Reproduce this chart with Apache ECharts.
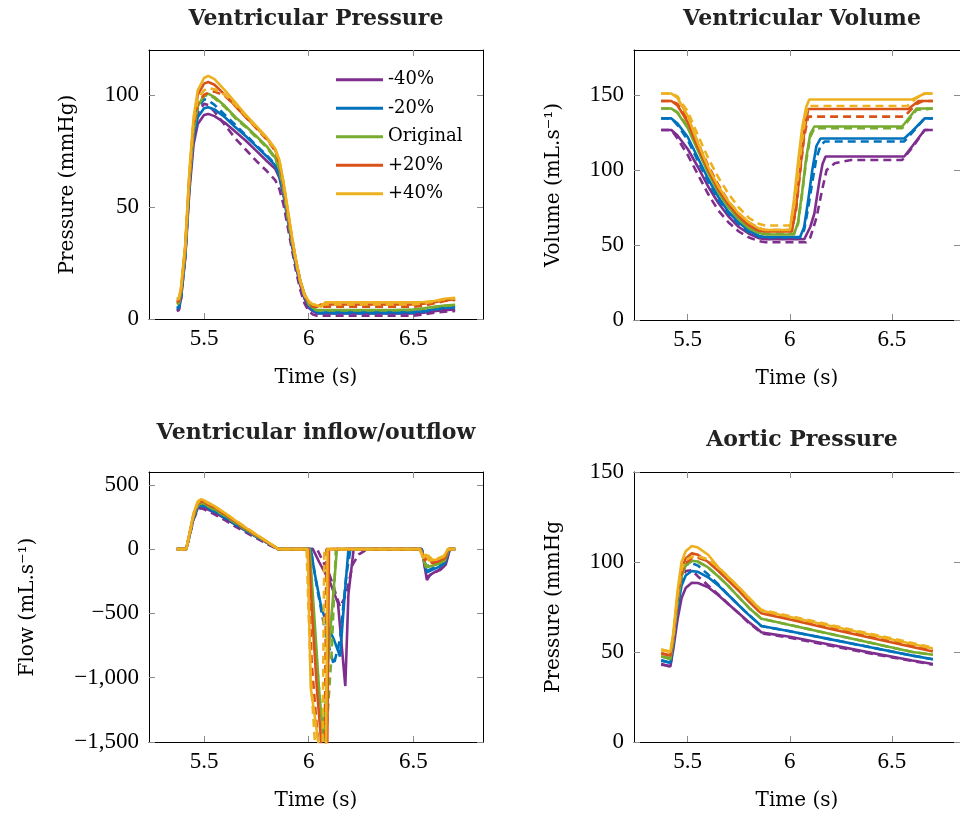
<!DOCTYPE html>
<html><head><meta charset="utf-8">
<script src="https://cdn.jsdelivr.net/npm/echarts@6/dist/echarts.min.js"></script>
<style>html,body{margin:0;padding:0;background:#fff}#c{width:960px;height:815px}</style>
</head><body><div id="c"></div>
<script>
// ---------- shared ----------
const names = ['-40%', '-20%', 'Original', '+20%', '+40%'];
const colors = ['#7E2F8E', '#0072BD', '#77AC30', '#D95319', '#EDB120'];
const xTicks = [5.5, 6, 6.5];
const titles = ['Ventricular Pressure', 'Ventricular Volume', 'Ventricular inflow/outflow', 'Aortic Pressure'];
const yNames = ['Pressure (mmHg)', 'Volume (mL.s\u207B\u00B9)', 'Flow (mL.s\u207B\u00B9)', 'Pressure (mmHg'];
const vpYTicks = [0, 50, 100];
const volYTicks = [0, 50, 100, 150];
const flowYTicks = [-1500, -1000, -500, 0, 500];
const apYTicks = [0, 50, 100, 150];

// ---------- Ventricular pressure (mmHg) ----------
const vpTime = [5.37,5.38,5.39,5.41,5.43,5.45,5.47,5.50,5.52,5.55,5.60,5.65,5.70,5.75,5.80,5.84,5.86,5.88,5.90,5.92,5.94,5.96,5.98,6.00,6.02,6.04,6.06,6.08,6.10,6.20,6.30,6.40,6.50,6.55,6.60,6.65,6.70];
const vpSolid = [
  [4,4.5,9,27,57,78,87,91,91.5,90.5,87.5,83.5,79.5,75,70.5,67,63,55,44,33,23,15,9,5,3.5,2.5,2.5,2.5,2.5,2.5,2.5,2.5,2.5,2.8,3.5,4,4.2],
  [5,5.5,10,28,59,81,90,94,94.5,93.5,90,85.5,81.5,77,72.5,68.5,64,56,45,34,24,16,10,6,4,3,2.8,3,3,3,3,3,3.2,3.5,4.5,5,5.4],
  [7,7.5,12,30,62,84,95,99.5,100.5,99,95,90,86,81.5,77,72,67,58,46,35,25,17,11,7,5,4,4,4,4,4,4,4,4.2,4.8,5.5,6,6.3],
  [8,8.5,13,32,64,88,100,105,105.7,104.5,100,95,90,85.5,80.5,75.5,70,60,48,36,26,17,11,7.5,6,5.5,6.5,6.5,6.5,6.5,6.5,6.5,6.5,6.8,7.5,8.3,8.8],
  [9,9.5,14,33,66,90,102,107.5,108.5,107,102,96.5,91,86,81,76,71,61,49,37,26,17,11,8,6.5,6,5.5,7.5,7.5,7.5,7.5,7.5,7.5,7.6,8,9,9.5]
];
const vpDashed = [
  [3.5,4,9,28,60,83,92,96,95.5,92.5,86.5,80.5,75.5,70.5,66,62,58,51,41,31,21,13,7,3.5,2,1.5,1.5,1.5,1.5,1.5,1.5,1.5,1.5,2,2.8,3.3,3.6],
  [4.5,5,10,29,62,85,94,98,97.5,95.5,91,86.5,82,77.5,73,69,64.5,56,45,34,24,16,10,6,3.5,2.8,2.6,2.6,2.6,2.6,2.6,2.6,2.8,3.2,4.2,4.8,5.2],
  [6.5,7,11.5,30,62,85,95.5,99.5,100,98.5,94.5,89.5,85.5,81,76.5,71.5,66.5,57.5,45.5,34.5,24.5,16.5,10.5,6.5,4.5,3.8,3.8,3.8,3.8,3.8,3.8,3.8,4,4.6,5.3,5.8,6.1],
  [7.5,8,12.5,31,62,86,96,100,101,101.5,99.5,95,90,85,80,75,69.5,59.5,47.5,35.5,25.5,16.5,10.5,7,5.5,5.5,5.5,5.5,5.5,5.5,5.5,5.5,5.5,6,7,8,8.5],
  [8.5,9,13.5,32,64,88,98,102,103,102.5,100,95.5,90.5,85.5,80.5,75.5,70.5,60.5,48.5,36.5,25.5,16.5,10.5,7.5,6.5,6.5,6.5,6.5,6.5,6.5,6.5,6.5,6.5,7,7.8,8.8,9.2]
];

// ---------- Ventricular volume (time, value) ----------
const volSolid = [
  [[5.37,126.7],[5.42,126.7],[5.45,123],[5.50,114],[5.55,102],[5.60,89],[5.65,78],[5.70,69],[5.75,62],[5.80,57.5],[5.85,54.5],[5.88,53.8],[6.07,53.8],[6.10,62],[6.12,71],[6.145,93],[6.16,104],[6.175,109],[6.56,109],[6.60,116],[6.66,126.7],[6.70,126.7]],
  [[5.37,134.4],[5.42,134.4],[5.45,131],[5.50,122],[5.55,108],[5.60,94],[5.65,82],[5.70,72],[5.75,65],[5.80,59.5],[5.85,56],[5.88,55.3],[6.05,55.3],[6.07,62],[6.09,80],[6.11,100],[6.13,116],[6.15,121],[6.56,121],[6.60,126],[6.66,134.4],[6.70,134.4]],
  [[5.37,141],[5.42,141],[5.45,138],[5.50,128],[5.55,113],[5.60,98],[5.65,85],[5.70,75],[5.75,67],[5.80,61],[5.85,58],[5.88,57],[6.02,57],[6.04,65],[6.06,85],[6.08,108],[6.10,124],[6.12,129],[6.55,129],[6.62,141],[6.70,141]],
  [[5.37,146],[5.42,146],[5.45,143],[5.50,132],[5.55,115],[5.60,100],[5.65,87],[5.70,77],[5.75,69],[5.80,63],[5.85,59.5],[5.88,59],[6.01,59],[6.03,75],[6.05,100],[6.07,125],[6.09,140.7],[6.58,140.7],[6.63,146],[6.70,146]],
  [[5.37,151],[5.42,151],[5.45,148],[5.50,136],[5.55,118],[5.60,102],[5.65,89],[5.70,79],[5.75,71],[5.80,65],[5.85,61],[5.88,60],[6.00,60],[6.02,80],[6.04,105],[6.06,128],[6.08,142],[6.095,147],[6.60,147],[6.66,151],[6.70,151]]
];
const volDashed = [
  [[5.37,126.7],[5.42,126.7],[5.45,121],[5.50,110],[5.55,97],[5.60,84],[5.65,73],[5.70,65],[5.75,59],[5.80,55],[5.85,52.5],[5.88,51.8],[6.08,51.8],[6.10,55],[6.13,68],[6.16,88],[6.18,100],[6.22,104.5],[6.30,106.7],[6.55,106.7],[6.60,115],[6.66,126.7],[6.70,126.7]],
  [[5.37,134.4],[5.42,134.4],[5.45,130],[5.50,120],[5.55,106],[5.60,92],[5.65,80],[5.70,71],[5.75,64],[5.80,58.5],[5.85,55.5],[5.88,55],[6.05,55],[6.07,60],[6.09,75],[6.11,92],[6.13,108],[6.15,116],[6.17,119],[6.56,119],[6.60,125],[6.66,134.4],[6.70,134.4]],
  [[5.37,141],[5.42,141],[5.45,138.5],[5.50,129],[5.55,114],[5.60,99],[5.65,86],[5.70,76],[5.75,68],[5.80,62],[5.85,58.5],[5.88,57.5],[6.02,57.5],[6.04,64],[6.06,84],[6.08,106],[6.10,122],[6.12,127.8],[6.55,127.8],[6.62,140],[6.70,141]],
  [[5.37,146],[5.42,146],[5.45,144],[5.50,134],[5.55,118],[5.60,103],[5.65,90],[5.70,79],[5.75,71],[5.80,65],[5.85,61],[5.88,60],[6.01,60],[6.03,73],[6.05,98],[6.07,122],[6.09,135.6],[6.56,135.6],[6.62,144],[6.65,146],[6.70,146]],
  [[5.37,151],[5.42,151],[5.45,149],[5.50,139],[5.55,123],[5.60,108],[5.65,95],[5.70,84],[5.75,75],[5.80,68],[5.85,64],[5.88,63],[6.00,63],[6.02,75],[6.04,95],[6.06,120],[6.08,138],[6.09,142.7],[6.575,142.7],[6.62,148],[6.66,151],[6.70,151]]
];

// ---------- Ventricular inflow/outflow (time, value) ----------
const flowSolid = [
  [[5.37,0],[5.415,0],[5.43,100],[5.45,240],[5.47,318],[5.485,330],[5.50,322],[5.55,285],[5.60,240],[5.65,190],[5.70,142],[5.75,95],[5.80,50],[5.855,0],[6.02,0],[6.05,-100],[6.10,-250],[6.14,-420],[6.175,-1065],[6.19,-350],[6.215,0],[6.54,0],[6.565,-240],[6.58,-200],[6.60,-180],[6.63,-160],[6.655,-120],[6.675,0],[6.70,0]],
  [[5.37,0],[5.415,0],[5.43,105],[5.45,250],[5.47,332],[5.485,345],[5.50,338],[5.55,298],[5.60,250],[5.65,198],[5.70,148],[5.75,100],[5.80,53],[5.855,0],[6.01,0],[6.03,-200],[6.06,-450],[6.09,-600],[6.12,-700],[6.15,-835],[6.17,-400],[6.19,0],[6.54,0],[6.565,-180],[6.59,-160],[6.62,-140],[6.65,-110],[6.672,0],[6.70,0]],
  [[5.37,0],[5.415,0],[5.43,110],[5.45,260],[5.47,345],[5.485,360],[5.50,353],[5.55,312],[5.60,262],[5.65,207],[5.70,154],[5.75,104],[5.80,55],[5.855,0],[6.005,0],[6.03,-600],[6.05,-1100],[6.07,-1460],[6.10,-700],[6.135,0],[6.535,0],[6.56,-140],[6.59,-130],[6.62,-115],[6.65,-90],[6.67,0],[6.70,0]],
  [[5.37,0],[5.415,0],[5.43,115],[5.45,270],[5.47,360],[5.485,375],[5.50,368],[5.55,325],[5.60,272],[5.65,215],[5.70,160],[5.75,108],[5.80,57],[5.855,0],[6.00,0],[6.02,-600],[6.04,-1100],[6.06,-1500],[6.08,-1800],[6.088,-1700],[6.097,0],[6.535,0],[6.555,-90],[6.57,-50],[6.59,-110],[6.62,-95],[6.65,-70],[6.668,0],[6.70,0]],
  [[5.37,0],[5.415,0],[5.43,120],[5.45,280],[5.47,372],[5.485,388],[5.50,380],[5.55,335],[5.60,280],[5.65,222],[5.70,165],[5.75,112],[5.80,60],[5.855,0],[5.995,0],[6.01,-1080],[6.025,-1250],[6.05,-1550],[6.07,-1800],[6.082,-1800],[6.09,0],[6.53,0],[6.548,-70],[6.56,-40],[6.575,-90],[6.61,-80],[6.645,-60],[6.665,0],[6.70,0]]
];
const flowDashed = [
  [[5.37,0],[5.415,0],[5.43,95],[5.45,230],[5.47,305],[5.485,318],[5.50,310],[5.55,270],[5.60,225],[5.65,175],[5.70,130],[5.75,85],[5.80,42],[5.85,0],[6.04,0],[6.10,-200],[6.15,-450],[6.18,-350],[6.21,-120],[6.24,-40],[6.28,0],[6.54,0],[6.565,-220],[6.59,-190],[6.62,-165],[6.65,-125],[6.675,0],[6.70,0]],
  [[5.37,0],[5.415,0],[5.43,100],[5.45,245],[5.47,325],[5.485,338],[5.50,330],[5.55,290],[5.60,243],[5.65,192],[5.70,143],[5.75,96],[5.80,50],[5.853,0],[6.01,0],[6.04,-300],[6.08,-650],[6.12,-900],[6.15,-700],[6.18,-200],[6.20,0],[6.54,0],[6.565,-170],[6.59,-150],[6.62,-130],[6.65,-100],[6.672,0],[6.70,0]],
  [[5.37,0],[5.415,0],[5.43,108],[5.45,255],[5.47,340],[5.485,355],[5.50,348],[5.55,307],[5.60,258],[5.65,204],[5.70,152],[5.75,102],[5.80,54],[5.855,0],[6.00,0],[6.03,-700],[6.06,-1300],[6.08,-1550],[6.11,-800],[6.13,0],[6.535,0],[6.56,-130],[6.59,-120],[6.62,-105],[6.65,-85],[6.67,0],[6.70,0]],
  [[5.37,0],[5.415,0],[5.43,112],[5.45,265],[5.47,352],[5.485,367],[5.50,362],[5.55,322],[5.60,270],[5.65,215],[5.70,162],[5.75,110],[5.80,58],[5.855,0],[5.995,0],[6.015,-900],[6.04,-1400],[6.06,-1700],[6.075,-1800],[6.085,0],[6.535,0],[6.555,-80],[6.575,-60],[6.60,-100],[6.63,-85],[6.655,-60],[6.668,0],[6.70,0]],
  [[5.37,0],[5.415,0],[5.43,115],[5.45,272],[5.47,362],[5.485,378],[5.50,374],[5.55,333],[5.60,280],[5.65,224],[5.70,168],[5.75,114],[5.80,60],[5.857,0],[5.99,0],[6.01,-1000],[6.03,-1500],[6.05,-1800],[6.065,-1800],[6.075,0],[6.53,0],[6.55,-60],[6.57,-50],[6.59,-80],[6.62,-70],[6.65,-50],[6.665,0],[6.70,0]]
];

// ---------- Aortic pressure (mmHg) ----------
const apTime = [5.37,5.40,5.415,5.43,5.45,5.47,5.49,5.52,5.55,5.60,5.65,5.70,5.75,5.80,5.84,5.86,5.88,6.00,6.20,6.40,6.60,6.70];
const apSolid = [
  [43.3,42.3,41.9,52,68,80,85.5,88.5,88.3,86,81.5,76.5,71.5,66.5,63,61,60.5,58.5,54,49.5,45.3,43.3],
  [45.5,44.5,44,55,74,87,92.5,95,94.5,91.5,87,81.5,76,70.5,66.5,64.5,64,61.5,57,52.5,48,46],
  [47.5,46.5,46,57,78,92,98,100.7,100.3,97,92,86.5,80.5,74.5,70.5,68.5,68,65,60,55,50,48.5],
  [49.5,48.5,48,59,81,96,102,104.8,104,100,95,89.5,84,78,73.5,71.5,71,68,62.8,57.8,52.8,50.3],
  [51.5,50.5,50,61,84,100,106,108.9,108,104,97,91.5,86,80,75.5,73,72.5,69.5,64.5,59.5,54.5,52]
];
const apDashed = [
  [43,42.5,42,55,75,90,95,95.5,92,87,82,76.5,71.5,66,62.5,60.5,60,58,53.5,49,45,43],
  [45,44.5,44,57,78,93,98.5,99.4,98,93,87.5,81.5,76,70.5,66.5,64.5,64,61.5,57,52.5,48,46],
  [47.5,47,46.5,58,79,93,98.5,100.3,100,97,92,86.5,80.5,74.5,70.5,68.5,68,65,60,55,50,48.5],
  [49,48.5,48,58,80,94,99.5,102,102.3,100.5,95.5,90,84.5,78.5,74,72,71.5,68.5,63.5,58.5,53.5,51],
  [51,50.5,50,59,82,96,101,103,103,101.5,97,91.5,86,80,75.5,73.5,73,70,65,60,55,52.5]
];

// ---------- build ----------
const zip = (t, v) => t.map((x, i) => [x, v[i]]);
const panels = [
  { solid: vpSolid.map(v => zip(vpTime, v)), dashed: vpDashed.map(v => zip(vpTime, v)), yMin: 0, yMax: 120, yTicks: vpYTicks, nameGap: 71 },
  { solid: volSolid, dashed: volDashed, yMin: 0, yMax: 180, yTicks: volYTicks, nameGap: 70 },
  { solid: flowSolid, dashed: flowDashed, yMin: -1500, yMax: 600, yTicks: flowYTicks, nameGap: 111 },
  { solid: apSolid.map(v => zip(apTime, v)), dashed: apDashed.map(v => zip(apTime, v)), yMin: 0, yMax: 150, yTicks: apYTicks, nameGap: 70 }
];
const gridPos = [
  { left: 149, top: 50, width: 334, height: 269 },
  { left: 634, top: 50, width: 334, height: 270 },
  { left: 149, top: 472, width: 334, height: 270 },
  { left: 634, top: 472, width: 334, height: 270 }
];
const titlePos = [[316, 8], [802, 8], [316, 422], [802, 429]];
const NAME_FONT = 'DejaVu Serif';
const TICK_FONT = 'Liberation Serif';
const fmt = v => {
  const s = Math.abs(v).toLocaleString('en-US');
  return v < 0 ? '\u2212' + s : s;
};

const xAxis = [], yAxis = [], series = [];
panels.forEach((p, i) => {
  const lineCommon = { onZero: false, lineStyle: { color: '#000', width: 1 } };
  const tickX = { inside: true, length: 6, customValues: xTicks, lineStyle: { color: '#8c8c8c', width: 1 } };
  const tickY = { inside: true, length: 6, customValues: p.yTicks, lineStyle: { color: '#8c8c8c', width: 1 } };
  xAxis.push({
    type: 'value', gridIndex: i, min: 5.237, max: 6.833, position: 'bottom',
    name: 'Time (s)', nameLocation: 'middle', nameGap: 49,
    nameTextStyle: { fontFamily: NAME_FONT, fontSize: 20, color: '#000' },
    axisLine: lineCommon, axisTick: tickX, splitLine: { show: false },
    axisLabel: { customValues: xTicks, fontFamily: TICK_FONT, fontSize: 23, color: '#000', margin: 8, formatter: v => String(v) }
  });
  xAxis.push({
    type: 'value', gridIndex: i, min: 5.237, max: 6.833, position: 'top',
    axisLine: lineCommon, axisTick: tickX, splitLine: { show: false }, axisLabel: { show: false }
  });
  yAxis.push({
    type: 'value', gridIndex: i, min: p.yMin, max: p.yMax, position: 'left',
    name: yNames[i], nameLocation: 'middle', nameGap: p.nameGap,
    nameTextStyle: { fontFamily: NAME_FONT, fontSize: 20, color: '#000' },
    axisLine: lineCommon, axisTick: tickY, splitLine: { show: false },
    axisLabel: { customValues: p.yTicks, fontFamily: TICK_FONT, fontSize: 23, color: '#000', margin: 10, formatter: fmt }
  });
  yAxis.push({
    type: 'value', gridIndex: i, min: p.yMin, max: p.yMax, position: 'right',
    axisLine: lineCommon, axisTick: tickY, splitLine: { show: false }, axisLabel: { show: false }
  });
  colors.forEach((c, k) => {
    series.push({
      type: 'line', name: names[k], xAxisIndex: 2 * i, yAxisIndex: 2 * i,
      data: p.solid[k], symbol: 'none', showSymbol: false, clip: true,
      lineStyle: { color: c, width: 2.6 }, itemStyle: { color: c }, z: 2 + k
    });
    series.push({
      type: 'line', name: names[k] + ' (ref)', xAxisIndex: 2 * i, yAxisIndex: 2 * i,
      data: p.dashed[k], symbol: 'none', showSymbol: false, clip: true,
      lineStyle: { color: c, width: 2.6, type: [8, 5] }, itemStyle: { color: c }, z: 2 + k
    });
  });
});

const chart = echarts.init(document.getElementById('c'), null, { renderer: 'canvas' });
chart.setOption({
  animation: false,
  backgroundColor: '#fff',
  title: titles.map((t, i) => ({
    text: t, left: titlePos[i][0], top: titlePos[i][1], textAlign: 'center', padding: 0,
    textStyle: { fontFamily: NAME_FONT, fontWeight: 'bold', fontSize: 22, color: '#222' }
  })),
  legend: {
    data: names, orient: 'vertical', left: 331, top: 65,
    icon: 'rect', itemWidth: 47, itemHeight: 3, itemGap: 9,
    textStyle: { fontFamily: NAME_FONT, fontSize: 18, color: '#000', lineHeight: 19.5 }
  },
  grid: gridPos,
  xAxis, yAxis, series
});
</script></body></html>
